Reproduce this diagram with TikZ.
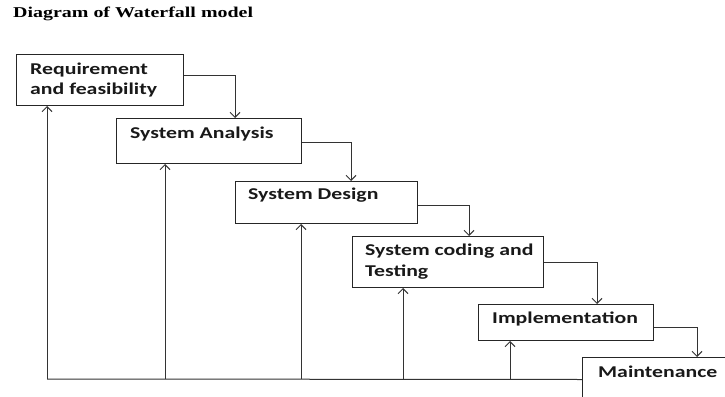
\documentclass[tikz,border=0pt]{standalone}
\usepackage{fontspec}
\newfontfamily\boxfont{Carlito}[FakeStretch=1.32]
\newfontfamily\titlefont{Liberation Serif}[FakeStretch=1.33]
\usetikzlibrary{arrows.meta}
\tikzset{
  box/.style={draw=black!85, line width=1pt, anchor=north west, inner sep=0pt},
  lbl/.style={font=\boxfont\bfseries\fontsize{16.5pt}{20.5pt}\selectfont, text=black!90, anchor=base west, inner sep=0pt, align=left},
  arr/.style={draw=black!80, line width=1pt, -{Straight Barb[length=5pt,width=10pt]}},
  ln/.style={draw=black!80, line width=1pt}
}
\begin{document}
\begin{tikzpicture}[x=1pt,y=-1pt]
\useasboundingbox (0,0) rectangle (725,396);
\clip (0,0) rectangle (725,396);
\fill[white] (0,0) rectangle (725,396);
\node[font=\titlefont\bfseries\fontsize{15pt}{18pt}\selectfont, anchor=base west, inner sep=0pt] (title) at (13,18) {Diagram of Waterfall model};
% boxes
\node[box, minimum width=167pt, minimum height=51pt] (b1) at (16,54) {};
\node[box, minimum width=185pt, minimum height=45pt] (b2) at (116,118) {};
\node[box, minimum width=182pt, minimum height=42pt] (b3) at (235,181) {};
\node[box, minimum width=191pt, minimum height=51pt] (b4) at (352,236) {};
\node[box, minimum width=175pt, minimum height=36pt] (b5) at (478,304) {};
\node[box, minimum width=160pt, minimum height=44pt] (b6) at (582,357) {};
% labels (base = baseline of last line)
\node[lbl] (t1) at (30,94.5) {Requirement\\and feasibility};
\node[lbl] (t2) at (130,138) {System Analysis};
\node[lbl] (t3) at (248,199) {System Design};
\node[lbl] (t4) at (365,276) {System coding and\\Testing};
\node[lbl] (t5) at (492,323) {Implementation};
\node[lbl] (t6) at (598,377) {Maintenance};
% forward arrows
\coordinate (a1) at (235,118);
\coordinate (a2) at (351,181);
\coordinate (a3) at (469,236);
\coordinate (a4) at (597,304);
\coordinate (a5) at (697,357);
\draw[arr] ([yshift=4.5pt]b1.east) -| (a1);
\draw[arr] ([yshift=-1.5pt]b2.east) -| (a2);
\draw[arr] ([yshift=-3pt]b3.east) -| (a3);
\draw[arr] ([yshift=-0.5pt]b4.east) -| (a4);
\draw[arr] ([yshift=-5pt]b5.east) -| (a5);
% feedback
\coordinate (f1) at (47,379);
\coordinate (f2) at (165,379);
\coordinate (f3) at (301,379);
\coordinate (f4) at (403,379);
\coordinate (f5) at (510,379);
\draw[ln] (b6.west) -- (f1);
\draw[arr] (f1) -- (f1 |- b1.south);
\draw[arr] (f2) -- (f2 |- b2.south);
\draw[arr] (f3) -- (f3 |- b3.south);
\draw[arr] (f4) -- (f4 |- b4.south);
\draw[arr] (f5) -- (f5 |- b5.south);
\end{tikzpicture}
\end{document}
